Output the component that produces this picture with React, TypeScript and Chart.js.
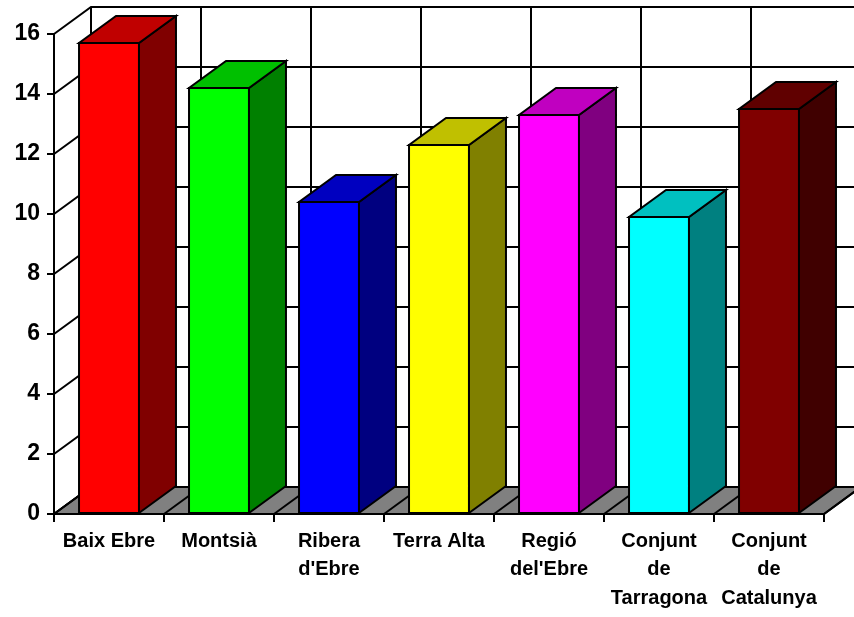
import React, { useEffect, useRef } from 'react';
import { Chart, registerables } from 'chart.js';

Chart.register(...registerables);

const categories: string[][] = [
  ['Baix Ebre'],
  ['Montsià'],
  ['Ribera', "d'Ebre"],
  ['Terra Alta'],
  ['Regió', "del'Ebre"],
  ['Conjunt', 'de', 'Tarragona'],
  ['Conjunt', 'de', 'Catalunya'],
];
const values: number[] = [15.7, 14.2, 10.4, 12.3, 13.3, 9.9, 13.5];
const frontColors: string[] = ['#ff0000', '#00ff00', '#0000ff', '#ffff00', '#ff00ff', '#00ffff', '#800000'];
const topColors: string[] = ['#c00000', '#00c000', '#0000c0', '#c0c000', '#c000c0', '#00c0c0', '#600000'];
const sideColors: string[] = ['#800000', '#008000', '#000080', '#808000', '#800080', '#008080', '#400000'];
const yMin = 0;
const yMax = 16;
const yStep = 2;

const DX = 37;
const DY = 27;
const FONT = 'Arial, "Liberation Sans", sans-serif';

const depthPlugin = {
  id: 'depth3d',
  beforeDatasetsDraw(chart: any) {
    const ctx: CanvasRenderingContext2D = chart.ctx;
    const { left, right, top, bottom } = chart.chartArea;
    const xs = chart.scales.x;
    const ys = chart.scales.y;
    const n = categories.length;
    ctx.save();
    ctx.lineWidth = 2;
    ctx.strokeStyle = '#000';
    ctx.lineJoin = 'miter';
    ctx.fillStyle = '#ffffff';
    ctx.fillRect(left + DX, top - DY, right - left, bottom - top);
    ys.ticks.forEach((t: any) => {
      const py = ys.getPixelForValue(t.value);
      ctx.beginPath();
      ctx.moveTo(left, py);
      ctx.lineTo(left + DX, py - DY);
      ctx.lineTo(right + DX, py - DY);
      ctx.stroke();
    });
    for (let i = 0; i <= n; i++) {
      const px = xs.getPixelForValue(i - 0.5);
      ctx.beginPath();
      ctx.moveTo(px + DX, top - DY);
      ctx.lineTo(px + DX, bottom - DY);
      ctx.stroke();
    }
    ctx.beginPath();
    ctx.moveTo(left, bottom);
    ctx.lineTo(right, bottom);
    ctx.lineTo(right + DX, bottom - DY);
    ctx.lineTo(left + DX, bottom - DY);
    ctx.closePath();
    ctx.fillStyle = '#808080';
    ctx.fill();
    ctx.stroke();
    for (let i = 0; i <= n; i++) {
      const px = xs.getPixelForValue(i - 0.5);
      ctx.beginPath();
      ctx.moveTo(px, bottom);
      ctx.lineTo(px + DX, bottom - DY);
      ctx.stroke();
    }
    ctx.restore();
  },
  afterDatasetsDraw(chart: any) {
    const ctx: CanvasRenderingContext2D = chart.ctx;
    const meta = chart.getDatasetMeta(0);
    ctx.save();
    ctx.lineWidth = 2;
    ctx.strokeStyle = '#000';
    ctx.lineJoin = 'miter';
    meta.data.forEach((bar: any, i: number) => {
      const { x, y, base, width } = bar.getProps(['x', 'y', 'base', 'width'], true);
      const l = x - width / 2;
      const r = x + width / 2;
      ctx.beginPath();
      ctx.moveTo(r, base);
      ctx.lineTo(r + DX, base - DY);
      ctx.lineTo(r + DX, y - DY);
      ctx.lineTo(r, y);
      ctx.closePath();
      ctx.fillStyle = sideColors[i];
      ctx.fill();
      ctx.stroke();
      ctx.beginPath();
      ctx.moveTo(l, y);
      ctx.lineTo(r, y);
      ctx.lineTo(r + DX, y - DY);
      ctx.lineTo(l + DX, y - DY);
      ctx.closePath();
      ctx.fillStyle = topColors[i];
      ctx.fill();
      ctx.stroke();
      ctx.strokeRect(l, y, width, base - y);
    });
    ctx.restore();
  },
};

export default function App() {
  const ref = useRef<HTMLCanvasElement | null>(null);
  useEffect(() => {
    if (!ref.current) return;
    const chart = new Chart(ref.current, {
      type: 'bar',
      data: {
        labels: categories,
        datasets: [
          {
            data: values,
            backgroundColor: frontColors,
            borderColor: '#000',
            borderWidth: 0,
            barPercentage: 0.545,
            categoryPercentage: 1,
          },
        ],
      },
      options: {
        responsive: false,
        animation: false,
        devicePixelRatio: 1,
        layout: { padding: { top: 34, right: 30, left: 0, bottom: 0 } },
        plugins: { legend: { display: false }, tooltip: { enabled: false } },
        scales: {
          x: {
            offset: true,
            afterFit: (s: any) => {
              s.height = 103;
            },
            grid: { offset: true, drawOnChartArea: false, drawTicks: true, tickLength: 8, color: '#000', lineWidth: 2 },
            border: { display: true, color: '#000', width: 2 },
            ticks: {
              color: '#000',
              padding: 5,
              maxRotation: 0,
              autoSkip: false,
              font: { family: FONT, size: 20, weight: 'bold', lineHeight: 1.42 },
            },
          },
          y: {
            min: yMin,
            max: yMax,
            afterFit: (s: any) => {
              s.width = 54;
            },
            grid: { drawOnChartArea: false, drawTicks: true, tickLength: 7, color: '#000', lineWidth: 2 },
            border: { display: true, color: '#000', width: 2 },
            ticks: {
              stepSize: yStep,
              color: '#000',
              padding: 7,
              font: { family: FONT, size: 23, weight: 'bold' },
            },
          },
        },
      },
      plugins: [depthPlugin],
    } as any);
    return () => chart.destroy();
  }, []);
  return (
    <div style={{ position: 'absolute', left: 0, top: 0, width: 854, height: 617 }}>
      <canvas ref={ref} width={854} height={617} />
    </div>
  );
}
